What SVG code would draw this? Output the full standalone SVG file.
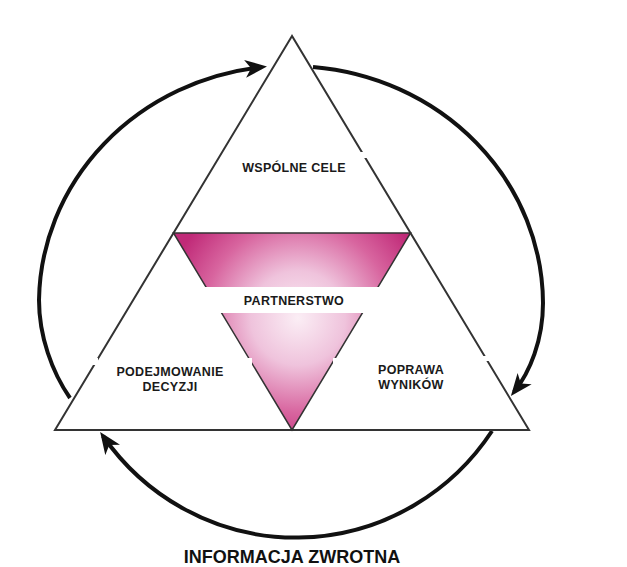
<svg xmlns="http://www.w3.org/2000/svg" width="627" height="567" viewBox="0 0 627 567">
  <style>
    .lbl { font-family: "Liberation Sans", Arial, sans-serif; font-weight: bold; font-size: 12.5px; fill: #1a1a1a; text-anchor: middle; letter-spacing: 0.3px; }
    .title { font-family: "Liberation Sans", Arial, sans-serif; font-weight: bold; font-size: 18px; fill: #111; text-anchor: middle; }
    .tri { fill: #ffffff; stroke: #333333; stroke-width: 2; stroke-linejoin: miter; }
    .arc { fill: none; stroke: #111111; stroke-width: 4; marker-end: url(#ah); }
  </style>
  <defs>
    <marker id="ah" markerUnits="userSpaceOnUse" markerWidth="22" markerHeight="18" viewBox="0 0 22 18" refX="17" refY="9" orient="auto">
      <path d="M0,0 L22,9 L0,18 L6,9 Z" fill="#111111"/>
    </marker>
    <radialGradient id="pink" gradientUnits="userSpaceOnUse" cx="298" cy="318" r="135">
      <stop offset="0" stop-color="#fbeef5"/>
      <stop offset="0.35" stop-color="#efc3dc"/>
      <stop offset="0.7" stop-color="#d8659f"/>
      <stop offset="1" stop-color="#c02a78"/>
    </radialGradient>
  </defs>
  <rect width="627" height="567" fill="#ffffff"/>

  <g id="connectors">
    <path class="arc" d="M70,398 C52,372 39,336 39,300 A252 238 0 0 1 262,67"/>
    <path class="arc" d="M313,67 A252 238 0 0 1 543,303 C543,340 530,372 514,392"/>
    <path class="arc" d="M492,431 A236 240 0 0 1 103,436"/>
  </g>

  <g id="triangle">
    <polygon class="tri" points="292,36 55,430 529,430"/>
  </g>

  <g id="partnerstwo">
    <polygon points="173.5,233 410.5,233 292,430" fill="url(#pink)" stroke="#333333" stroke-width="1.5"/>
    <rect x="200" y="287" width="186" height="26" fill="#ffffff"/>
    <rect x="240" y="358" width="12" height="8" fill="#ffffff"/>
    <rect x="333" y="358" width="12" height="8" fill="#ffffff"/>
    <text class="lbl" x="294" y="305">PARTNERSTWO</text>
  </g>

  <g id="wspolne-cele">
    <rect x="360" y="152" width="10" height="6" fill="#ffffff"/>
    <text class="lbl" x="294" y="172">WSPÓLNE CELE</text>
  </g>

  <g id="podejmowanie-decyzji">
    <rect x="88" y="358" width="10" height="7" fill="#ffffff"/>
    <text class="lbl" x="170" y="376">PODEJMOWANIE</text>
    <text class="lbl" x="170" y="391">DECYZJI</text>
  </g>

  <g id="poprawa-wynikow">
    <rect x="482" y="356" width="8" height="5" fill="#ffffff"/>
    <text class="lbl" x="411" y="374">POPRAWA</text>
    <text class="lbl" x="411" y="389">WYNIKÓW</text>
  </g>

  <g id="informacja-zwrotna">
    <text class="title" x="292" y="563">INFORMACJA ZWROTNA</text>
  </g>
</svg>
